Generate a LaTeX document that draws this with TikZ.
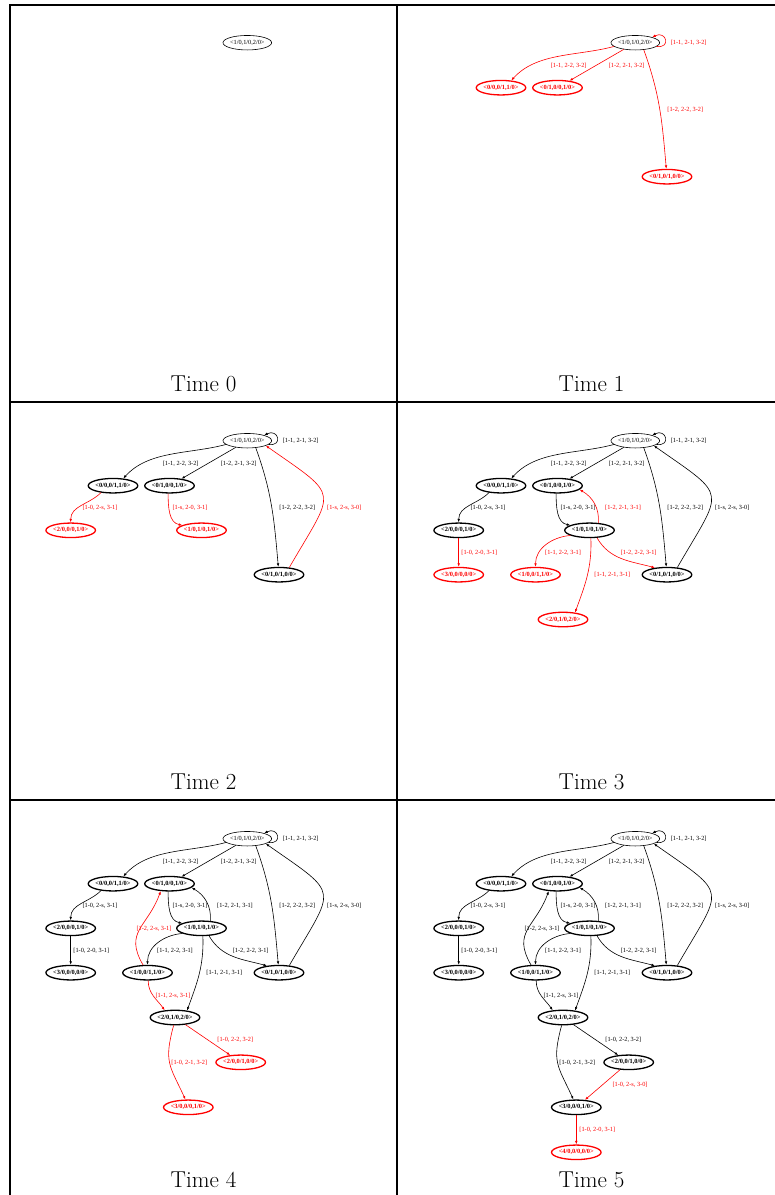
\documentclass[tikz,border=0pt]{standalone}
\usepackage{fontspec}
\newfontfamily\gvfont{Liberation Serif}
\usetikzlibrary{arrows.meta, shapes.geometric}

% draw a state, a transition or a label only once it has been reached
\newcommand\stnode[4]{\ifnum\tm<#1\relax\else\node[st, look=#1] (#2) at #3 {#4};\fi}
\newcommand\stedge[4]{\ifnum\tm<#1\relax\else\draw[link, look=#1] #2 #4 #3;\fi}
\newcommand\stlab[4]{\ifnum\tm<#1\relax\else\node[lab, look=#1] (#2) at #3 {#4};\fi}

\begin{document}
\begin{tikzpicture}[x=1pt, y=1pt,
    topst/.style={ellipse, draw, line width=0.6pt, inner sep=0pt, minimum width=48pt, minimum height=14.5pt, font=\gvfont\fontsize{6.3}{7}\selectfont},
    st/.style={topst, line width=1.3pt, font=\gvfont\bfseries\fontsize{6.4}{7}\selectfont},
    link/.style={-{Latex[length=3.5pt,width=2.6pt]}, line width=0.6pt},
    lab/.style={font=\gvfont\fontsize{6.3}{7}\selectfont, inner sep=0pt},
    timelab/.style={font=\fontsize{23}{27}\selectfont},
    new/.style={red}, old/.style={black},
    look/.code={\ifnum\tm=#1\relax\tikzset{new}\else\tikzset{old}\fi}]
    \useasboundingbox (0,0) rectangle (775,-1195);

    % table lines
    \draw[line width=2pt] (10,-1195) -- (10,-5) -- (775,-5);
    \draw[line width=2pt] (397,-5) -- (397,-1195);
    \draw[line width=2pt] (10,-402) -- (775,-402);
    \draw[line width=2pt] (10,-800) -- (775,-800);

    \foreach \tm/\dx/\dy in {0/0/0, 1/388/0, 2/0/-398, 3/388/-398, 4/0/-796, 5/388/-796} {
    \begin{scope}[shift={(\dx,\dy)}]
        \node[timelab] (t\tm) at (203.5,-384) {Time \tm};

        % states
        \node[topst] (R) at (247.3,-42.7) {<1/0,1/0,2/0>};
        \stnode{1}{A}{(113,-87.7)}{<0/0,0/1,1/0>}
        \stnode{1}{B}{(169.5,-87.7)}{<0/1,0/0,1/0>}
        \stnode{1}{G}{(279,-176.7)}{<0/1,0/1,0/0>}
        \stnode{2}{C}{(70.7,-132.3)}{<2/0,0/0,1/0>}
        \stnode{2}{D}{(201.5,-132.3)}{<1/0,1/0,1/0>}
        \stnode{3}{E}{(70.7,-176.7)}{<3/0,0/0,0/0>}
        \stnode{3}{F}{(147.5,-176.7)}{<1/0,0/1,1/0>}
        \stnode{3}{H}{(175,-221.5)}{<2/0,1/0,2/0>}
        \stnode{4}{I}{(240.7,-266.3)}{<2/0,0/1,0/0>}
        \stnode{4}{J}{(188.3,-311.3)}{<3/0,0/0,1/0>}
        \stnode{5}{K}{(188.3,-356.3)}{<4/0,0/0,0/0>}

        % transitions
        \stedge{1}{(R.-10)}{(R.18)}{.. controls +(15,-2) and +(14,7) ..}
        \stedge{1}{(R.190)}{(A.35)}{to[out=195,in=48,looseness=0.9]}
        \stedge{1}{(R)}{(B)}{--}
        \stedge{1}{(R.-40)}{(G.95)}{to[out=-70,in=95]}
        \stedge{2}{(G.35)}{(R.-15)}{to[out=60,in=-35,looseness=1.9]}
        \stedge{2}{(A.-150)}{(C.north)}{to[out=-135,in=90]}
        \stedge{2}{(B.-100)}{(D.165)}{to[out=-90,in=170]}
        \stedge{3}{(D.40)}{(B.-10)}{to[out=85,in=-30]}
        \stedge{3}{(C)}{(E)}{--}
        \stedge{3}{(D.-165)}{(F.north)}{to[out=185,in=90]}
        \stedge{3}{(D.-45)}{(G.150)}{to[out=-60,in=165]}
        \stedge{3}{(D.-80)}{(H.30)}{to[out=-88,in=70]}
        \stedge{4}{(F.120)}{(B.-140)}{to[out=120,in=-110,looseness=1.3]}
        \stedge{4}{(F.-85)}{(H.145)}{to[out=-90,in=125]}
        \stedge{4}{(H)}{(I)}{--}
        \stedge{4}{(H.-100)}{(J.110)}{to[out=-105,in=115,looseness=1.3]}
        \stedge{5}{(I)}{(J)}{--}
        \stedge{5}{(J)}{(K)}{--}

        % transition labels
        \stlab{1}{l1}{(300.7,-42.7)}{[1-1, 2-1, 3-2]}
        \stlab{1}{l2}{(180.7,-65.7)}{[1-1, 2-2, 3-2]}
        \stlab{1}{l3}{(238.7,-65.7)}{[1-2, 2-1, 3-2]}
        \stlab{1}{l4}{(297.3,-110)}{[1-2, 2-2, 3-2]}
        \stlab{2}{l5}{(344.3,-110)}{[1-s, 2-s, 3-0]}
        \stlab{2}{l6}{(100,-110)}{[1-0, 2-s, 3-1]}
        \stlab{2}{l7}{(190,-110)}{[1-s, 2-0, 3-1]}
        \stlab{3}{l8}{(235,-110)}{[1-2, 2-1, 3-1]}
        \stlab{3}{l9}{(91.3,-154.3)}{[1-0, 2-0, 3-1]}
        \stlab{3}{l10}{(175,-154.3)}{[1-1, 2-2, 3-1]}
        \stlab{3}{l11}{(250.7,-154.3)}{[1-2, 2-2, 3-1]}
        \stlab{3}{l12}{(224.3,-176.7)}{[1-1, 2-1, 3-1]}
        \stlab{4}{l13}{(154,-132.3)}{[1-2, 2-s, 3-1]}
        \stlab{4}{l14}{(173,-199.3)}{[1-1, 2-s, 3-1]}
        \stlab{4}{l15}{(235.3,-243.3)}{[1-0, 2-2, 3-2]}
        \stlab{4}{l16}{(189.3,-266.3)}{[1-0, 2-1, 3-2]}
        \stlab{5}{l17}{(242,-289)}{[1-0, 2-s, 3-0]}
        \stlab{5}{l18}{(209.3,-333.7)}{[1-0, 2-0, 3-1]}
    \end{scope}
    }
\end{tikzpicture}
\end{document}
